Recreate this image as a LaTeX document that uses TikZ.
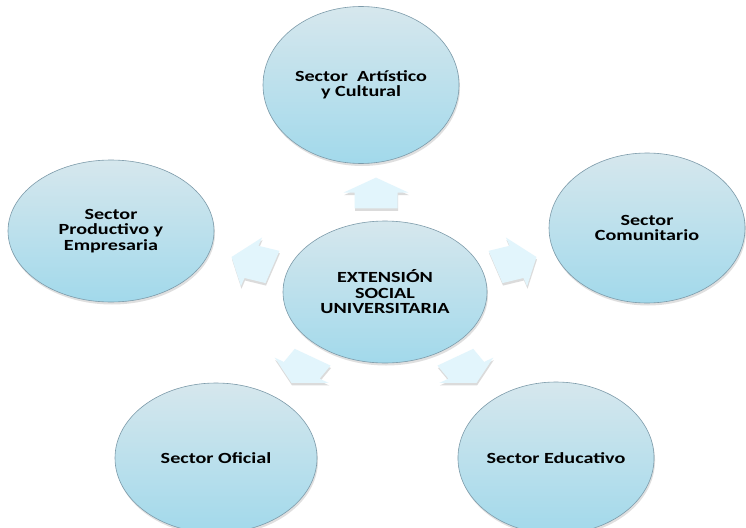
\documentclass[tikz,border=0pt]{standalone}
\usepackage{fontspec}
\setmainfont{Carlito}
\usetikzlibrary{shapes.geometric,shadows}
\definecolor{elltop}{RGB}{214,231,237}
\definecolor{ellbot}{RGB}{162,217,235}
\definecolor{elledge}{RGB}{125,155,170}
\definecolor{arrfill}{RGB}{226,245,252}
\newcommand{\wide}[1]{\scalebox{1.3}[1]{#1}}
\newcommand{\blockarr}[4]{%
  \begin{scope}[shift={(#1,#2)}, yscale=0.75, rotate=#3, scale=#4]
    \fill[blockarrow] (-20.5,-21.5) -- (0.5,-21.5) -- (0.5,-32.5) -- (20.5,0)
      -- (0.5,32.5) -- (0.5,21.5) -- (-20.5,21.5) -- cycle;
  \end{scope}}
\tikzset{
  ell/.style={ellipse, draw=elledge, line width=0.6pt, top color=elltop,
    bottom color=ellbot, inner sep=0pt, align=center,
    drop shadow={shadow xshift=1pt, shadow yshift=-2.5pt, opacity=0.25},
    font=\bfseries\fontsize{15.5}{15.5}\selectfont},
  blockarrow/.style={fill=arrfill,
    drop shadow={shadow xshift=0.5pt, shadow yshift=-2.5pt, opacity=0.28}},
}
\begin{document}
\begin{tikzpicture}[x=1pt,y=-1pt]
\useasboundingbox (0,0) rectangle (746,527);
\fill[white] (0,0) rectangle (746,527);

\node[ell, minimum width=196pt, minimum height=157pt] (art) at (361,85)
  {\wide{Sector~~Artístico}\\\wide{y Cultural}};
\node[ell, minimum width=206pt, minimum height=142pt] (prod) at (111,231)
  {\wide{Sector}\\\wide{Productivo y}\\\wide{Empresaria}};
\node[ell, minimum width=196pt, minimum height=150pt] (com) at (647,228)
  {\wide{Sector}\\\wide{Comunitario}};
\node[ell, minimum width=204pt, minimum height=142pt] (ext) at (385,292)
  {\wide{EXTENSIÓN}\\\wide{SOCIAL}\\\wide{UNIVERSITARIA}};
\node[ell, minimum width=202pt, minimum height=150pt] (ofi) at (216,458)
  {\wide{Sector Oficial}};
\node[ell, minimum width=196pt, minimum height=152pt] (edu) at (556,458)
  {\wide{Sector Educativo}};

\blockarr{376}{193}{90}{1}
\blockarr{516}{262}{18}{1.05}
\blockarr{252}{262}{162}{1.05}
\blockarr{302}{370}{-122}{0.98}
\blockarr{466}{370}{-58}{0.98}
\end{tikzpicture}
\end{document}
